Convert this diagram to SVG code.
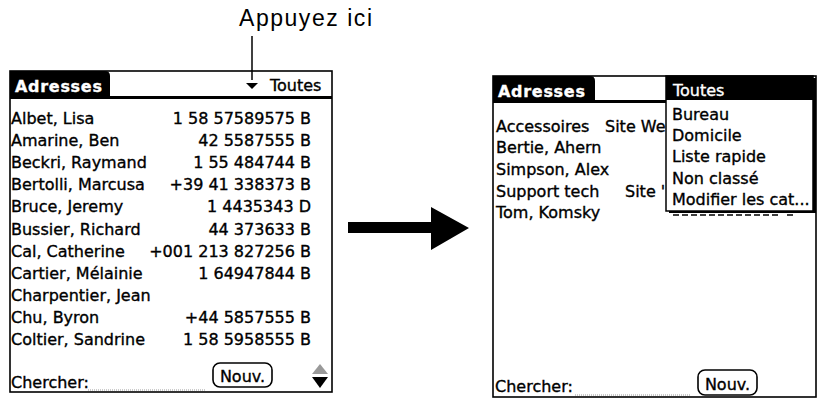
<svg xmlns="http://www.w3.org/2000/svg" width="823" height="404" viewBox="0 0 823 404">
<style>
.t{font-family:"DejaVu Sans","Liberation Sans",sans-serif;font-size:16px;fill:#000;stroke:#000;stroke-width:0.35px}
.n{text-anchor:end}
.w{fill:#fff;stroke:#fff}
.b{font-weight:bold;letter-spacing:0.7px}
.frame{fill:#fff;stroke:#000;stroke-width:1.6}
.btn{fill:#fff;stroke:#000;stroke-width:1.6}
.dot{stroke:#999;stroke-width:1;stroke-dasharray:1 1}
.lbl{font-family:"Liberation Sans",Arial,sans-serif;font-size:23px;fill:#000}
</style>
<rect width="823" height="404" fill="#fff"/>

<g id="label-appuyez">
<text class="lbl" x="239" y="26" textLength="133" lengthAdjust="spacing">Appuyez ici</text>
</g>

<g id="screen-left">
<rect class="frame" x="10" y="71" width="322" height="321"/>
<path d="M10,98 V71 H105 Q110,71 110,76 V98 Z" fill="#000"/>
<rect x="10" y="96" width="322" height="3" fill="#000"/>
<text class="t w b" x="15" y="92">Adresses</text>
<polygon points="246,83 258,83 252,89" fill="#000"/>
<text class="t" x="270" y="91">Toutes</text>
<text class="t" x="11" y="124">Albet, Lisa</text><text class="t n" x="311" y="124">1 58 57589575 B</text>
<text class="t" x="11" y="146">Amarine, Ben</text><text class="t n" x="311" y="146">42 5587555 B</text>
<text class="t" x="11" y="168">Beckri, Raymand</text><text class="t n" x="311" y="168">1 55 484744 B</text>
<text class="t" x="11" y="190">Bertolli, Marcusa</text><text class="t n" x="311" y="190">+39 41 338373 B</text>
<text class="t" x="11" y="212">Bruce, Jeremy</text><text class="t n" x="311" y="212">1 4435343 D</text>
<text class="t" x="11" y="235">Bussier, Richard</text><text class="t n" x="311" y="235">44 373633 B</text>
<text class="t" x="11" y="257">Cal, Catherine</text><text class="t n" x="311" y="257">+001 213 827256 B</text>
<text class="t" x="11" y="279">Cartier, Mélainie</text><text class="t n" x="311" y="279">1 64947844 B</text>
<text class="t" x="11" y="301">Charpentier, Jean</text>
<text class="t" x="11" y="323">Chu, Byron</text><text class="t n" x="311" y="323">+44 5857555 B</text>
<text class="t" x="11" y="345">Coltier, Sandrine</text><text class="t n" x="311" y="345">1 58 5958555 B</text>
<text class="t" x="11" y="388">Chercher:</text>
<line class="dot" x1="88" y1="390" x2="205" y2="390"/>
<rect class="btn" x="213" y="363" width="59" height="24" rx="7"/>
<text class="t" x="242.5" y="382" text-anchor="middle">Nouv.</text>
<polygon points="312,374 328,374 320,364" fill="#999"/>
<polygon points="312,377 328,377 320,388" fill="#000"/>
</g>

<g id="screen-right">
<rect class="frame" x="493" y="76" width="323" height="321"/>
<path d="M493,103 V76 H590 Q595,76 595,81 V103 Z" fill="#000"/>
<rect x="493" y="100" width="175" height="3" fill="#000"/>
<text class="t w b" x="498" y="97">Adresses</text>
<text class="t" x="496" y="132">Accessoires</text><text class="t" x="605" y="132">Site We</text>
<text class="t" x="496" y="153">Bertie, Ahern</text>
<text class="t" x="496" y="175">Simpson, Alex</text>
<text class="t" x="496" y="197">Support tech</text><text class="t" x="625" y="197">Site '</text>
<text class="t" x="496" y="218">Tom, Komsky</text>
<line x1="673" y1="215" x2="780" y2="215" stroke="#000" stroke-width="1.5" stroke-dasharray="6 3"/>
<line x1="787" y1="215" x2="793" y2="215" stroke="#000" stroke-width="1.5"/>
<text class="t" x="495" y="392">Chercher:</text>
<line class="dot" x1="575" y1="395" x2="690" y2="395"/>
<rect class="btn" x="698" y="370" width="59" height="25" rx="7"/>
<text class="t" x="727.5" y="390" text-anchor="middle">Nouv.</text>
</g>

<g id="popup-menu">
<rect x="669" y="78" width="147" height="135" fill="#000"/>
<rect x="666" y="76" width="147" height="135" fill="#fff" stroke="#000" stroke-width="1.5"/>
<rect x="666" y="76" width="147" height="24" fill="#000"/>
<text class="t w" x="673" y="96">Toutes</text>
<text class="t" x="672" y="120">Bureau</text>
<text class="t" x="672" y="141">Domicile</text>
<text class="t" x="672" y="162">Liste rapide</text>
<text class="t" x="672" y="184">Non classé</text>
<text class="t" x="672" y="205">Modifier les cat...</text>
</g>

<g id="connectors">
<line x1="252" y1="36" x2="252" y2="80" stroke="#000" stroke-width="1.5"/>
<polygon points="348,222 431,222 431,207 469,228 431,250 431,233 348,233" fill="#000"/>
</g>
</svg>
